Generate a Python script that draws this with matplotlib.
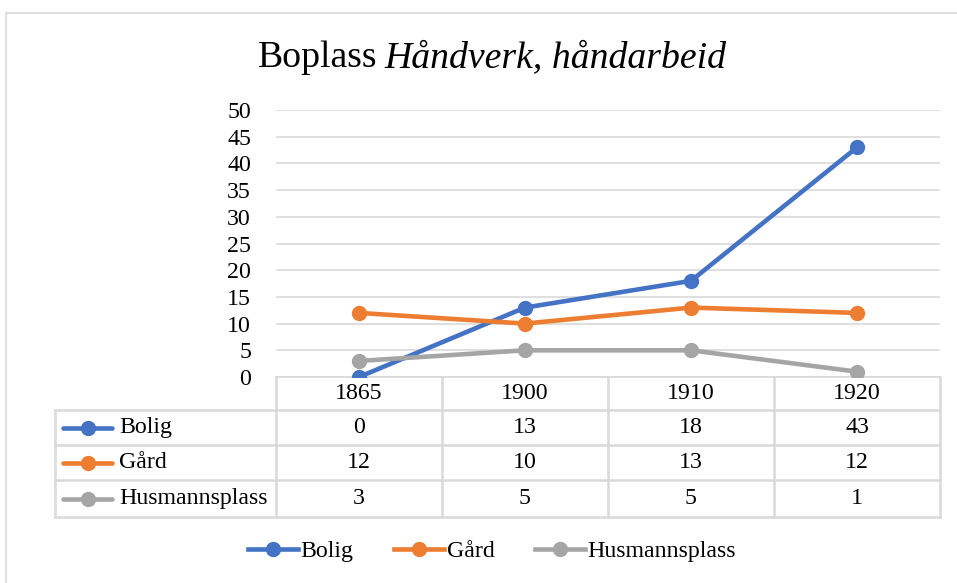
import matplotlib.pyplot as plt
from matplotlib.lines import Line2D

plt.rcParams['font.family'] = ['Liberation Serif', 'DejaVu Serif']

years = ['1865', '1900', '1910', '1920']
series = ['Bolig', 'Gård', 'Husmannsplass']
bolig = [0, 13, 18, 43]
gard = [12, 10, 13, 12]
husmannsplass = [3, 5, 5, 1]
values = [bolig, gard, husmannsplass]
colors = ['#4472c4', '#ed7d31', '#a5a5a5']

W, H = 957, 583
fig = plt.figure(figsize=(W / 100, H / 100), dpi=100)

# pixel helpers
def fx(px):
    return px / W

def fy(py):
    return 1 - py / H

grid_c = '#d9d9d9'
fs = 17.2

# outer chart border
fig.add_artist(plt.Rectangle((fx(6), fy(600)), fx(980), fy(13) - fy(600),
                             transform=fig.transFigure, fill=False,
                             edgecolor='#d9d9d9', lw=1.2))

left, right, top, bot = 276, 940, 110, 377
ax = fig.add_axes([fx(left), fy(bot), fx(right - left), fy(top) - fy(bot)])
x = list(range(len(years)))
for name, vals, c in zip(series, values, colors):
    ax.plot(x, vals, color=c, lw=3.3, marker='o', ms=10, label=name,
            solid_capstyle='round', zorder=3)
ax.set_xlim(-0.5, len(years) - 0.5)
ax.set_ylim(0, 50)
ax.set_yticks(range(0, 51, 5))
ax.set_xticks([])
ax.grid(axis='y', color=grid_c, lw=1.2)
ax.set_axisbelow(True)
for s in ['top', 'right', 'left']:
    ax.spines[s].set_visible(False)
ax.spines['bottom'].set_color(grid_c)
ax.spines['bottom'].set_linewidth(1.2)
ax.tick_params(axis='y', length=0, labelsize=fs, pad=18)
for lab in ax.get_yticklabels():
    lab.set_horizontalalignment('right')

# data table
row_y = [377, 410, 445, 480, 517]
col_x = [left + i * (right - left) / len(years) for i in range(len(years) + 1)]
tab_left = 55

def hline(y, x0, x1):
    fig.add_artist(Line2D([fx(x0), fx(x1)], [fy(y), fy(y)], color=grid_c, lw=1.8))

def vline(xp, y0, y1):
    fig.add_artist(Line2D([fx(xp), fx(xp)], [fy(y0), fy(y1)], color=grid_c, lw=1.8))

for y in row_y[1:]:
    hline(y, tab_left, right)
for xp in col_x:
    vline(xp, row_y[0], row_y[-1])
vline(tab_left, row_y[1], row_y[-1])

for j, yr in enumerate(years):
    cx = (col_x[j] + col_x[j + 1]) / 2
    fig.text(fx(cx), fy((row_y[0] + row_y[1]) / 2), yr, ha='center', va='center', fontsize=fs)

for i, (name, vals, c) in enumerate(zip(series, values, colors)):
    cy = (row_y[i + 1] + row_y[i + 2]) / 2
    fig.add_artist(Line2D([fx(63), fx(112)], [fy(cy), fy(cy)], color=c, lw=3.3,
                          solid_capstyle='round'))
    fig.add_artist(Line2D([fx(88)], [fy(cy)], color=c, marker='o', ms=10))
    fig.text(fx(119), fy(cy), name, ha='left', va='center', fontsize=fs)
    for j, v in enumerate(vals):
        cx = (col_x[j] + col_x[j + 1]) / 2
        fig.text(fx(cx), fy(cy), str(v), ha='center', va='center', fontsize=fs)

# title
fig.text(fx(377), fy(58), 'Boplass', ha='right', va='center', fontsize=27.2)
fig.text(fx(384), fy(58), 'Håndverk, håndarbeid', ha='left', va='center',
         fontsize=27.2, style='italic')

# legend
handles = [Line2D([], [], color=c, lw=3.3, marker='o', ms=10) for c in colors]
fig.legend(handles, series, loc='center', bbox_to_anchor=(fx(492), fy(551)),
           ncol=3, frameon=False, fontsize=fs, handlelength=2.1,
           handletextpad=0.1, columnspacing=1.7)

fig.savefig('out.png', dpi=100)
